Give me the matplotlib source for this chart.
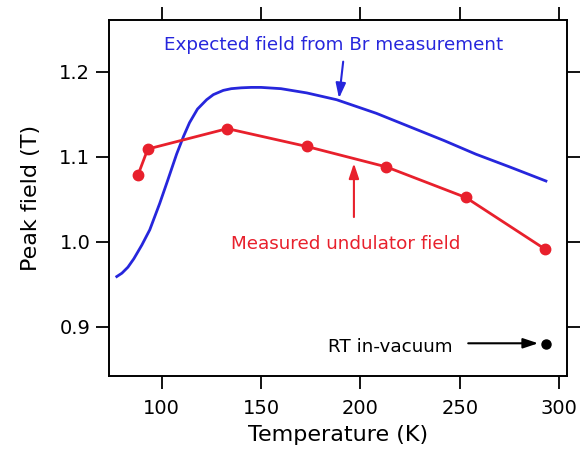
import matplotlib
matplotlib.use("Agg")
import matplotlib.pyplot as plt

# expected field from Br measurement (blue curve)
t_exp = [77.4, 80, 83, 86, 90, 94, 99, 103, 107.5, 111, 114, 118, 122.6, 126,
         131, 135, 140, 145, 150, 160, 173, 188, 208, 225, 242, 258, 275, 293.3]
b_exp = [0.959, 0.963, 0.970, 0.980, 0.996, 1.014, 1.045, 1.072, 1.103, 1.124,
         1.140, 1.156, 1.167, 1.173, 1.178, 1.1800, 1.181, 1.1815, 1.1815,
         1.180, 1.175, 1.167, 1.151, 1.135, 1.119, 1.103, 1.088, 1.0714]

# measured undulator field (red points)
t_meas = [88, 93, 133, 173, 213, 253, 293]
b_meas = [1.078, 1.109, 1.133, 1.112, 1.088, 1.052, 0.991]

# RT in-vacuum point
t_rt = [293.3]
b_rt = [0.880]

blue = '#2626dc'
red = '#e8202c'

fig = plt.figure(figsize=(5.88, 4.5), dpi=100)
ax = fig.add_axes([0.1854, 0.1644, 0.7789, 0.7912])

ax.plot(t_exp, b_exp, color=blue, lw=2, solid_joinstyle='round')
ax.plot(t_meas, b_meas, color=red, lw=2, marker='o', ms=7.5)
ax.plot(t_rt, b_rt, 'o', color='black', ms=6.5)

ax.set_xlim(73.5, 303.9)
ax.set_ylim(0.842, 1.2608)
ax.set_xticks([100, 150, 200, 250, 300])
ax.set_yticks([0.9, 1.0, 1.1, 1.2])
ax.set_yticklabels(['0.9', '1.0', '1.1', '1.2'])

ax.tick_params(direction='out', length=9.5, width=1.3, labelsize=14,
               top=True, right=True, labeltop=False, labelright=False)
ax.tick_params(axis='x', pad=7)
ax.tick_params(axis='y', pad=4)
for s in ax.spines.values():
    s.set_linewidth(1.4)

ax.set_xlabel('Temperature (K)', fontsize=16, labelpad=5)
ax.set_ylabel('Peak field (T)', fontsize=16, labelpad=13)

arrow = '-|>,head_length=0.9,head_width=0.3'
ax.text(186.7, 1.2255, 'Expected field from Br measurement', color=blue,
        fontsize=13.2, ha='center', va='baseline')
ax.annotate('', xy=(189.2, 1.1687), xytext=(191.3, 1.2118),
            arrowprops=dict(arrowstyle=arrow, color=blue, lw=1.5, shrinkA=0, shrinkB=0))

ax.text(192.6, 0.991, 'Measured undulator field', color=red,
        fontsize=13.2, ha='center', va='baseline')
ax.annotate('', xy=(196.7, 1.0922), xytext=(196.7, 1.029),
            arrowprops=dict(arrowstyle=arrow, color=red, lw=1.5, shrinkA=0, shrinkB=0))

ax.text(215, 0.8706, 'RT in-vacuum', color='black',
        fontsize=13.2, ha='center', va='baseline')
ax.annotate('', xy=(289.4, 0.8805), xytext=(254.2, 0.8805),
            arrowprops=dict(arrowstyle=arrow, color='black', lw=1.5, shrinkA=0, shrinkB=0))

fig.savefig('out.png', dpi=100)
